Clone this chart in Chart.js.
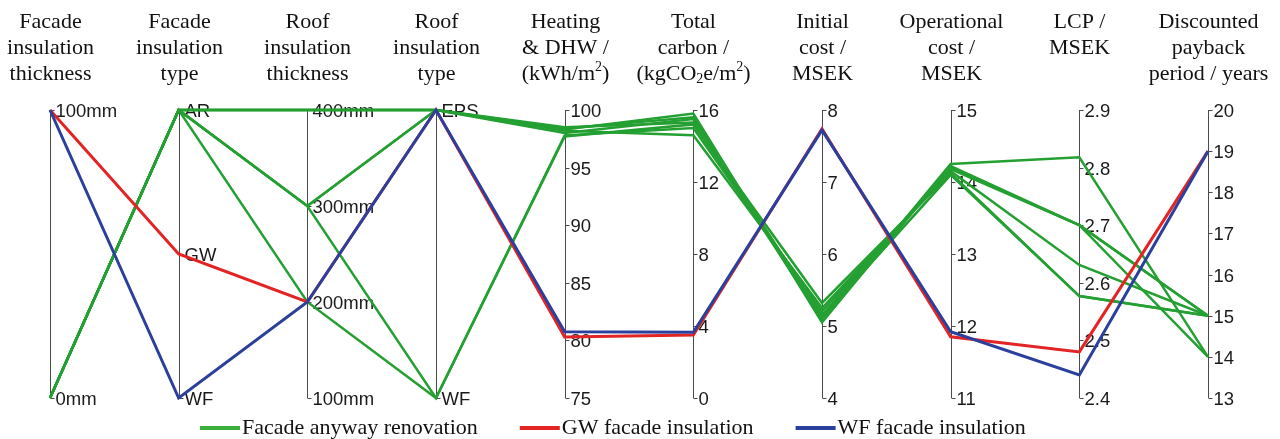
<!DOCTYPE html>
<html>
<head>
<meta charset="utf-8">
<script src="https://cdn.jsdelivr.net/npm/chart.js@4.4.0/dist/chart.umd.min.js"></script>
<style>
  html, body { margin: 0; background: #fff; }
  #wrap { width: 1280px; height: 439px; position: relative; }
</style>
</head>
<body>
<div id="wrap"><canvas id="chart"></canvas></div>
<script>
// Axis headers (segments: plain string, or [text, 'sub'|'sup'])
const axisTitles = [
    ['Facade', 'insulation', 'thickness'],
    ['Facade', 'insulation', 'type'],
    ['Roof', 'insulation', 'thickness'],
    ['Roof', 'insulation', 'type'],
    ['Heating', '& DHW /', ['(kWh/m', ['2', 'sup'], ')']],
    ['Total', 'carbon /', ['(kgCO', ['2', 'sub'], 'e/m', ['2', 'sup'], ')']],
    ['Initial', 'cost /', 'MSEK'],
    ['Operational', 'cost /', 'MSEK'],
    ['LCP /', 'MSEK'],
    ['Discounted', 'payback', 'period / years']
];

// Tick values / categories per axis
const facadeThicknessTicks = [0, 100];
const facadeTypes = ['WF', 'GW', 'AR'];
const roofThicknessTicks = [100, 200, 300, 400];
const roofTypes = ['WF', 'EPS'];
const heatingTicks = [75, 80, 85, 90, 95, 100];
const carbonTicks = [0, 4, 8, 12, 16];
const initialCostTicks = [4, 5, 6, 7, 8];
const operationalCostTicks = [11, 12, 13, 14, 15];
const lcpTicks = [2.4, 2.5, 2.6, 2.7, 2.8, 2.9];
const paybackTicks = [13, 14, 15, 16, 17, 18, 19, 20];

// Series values, one entry per axis
const anywayRuns = [
    [0, 'AR', 400, 'EPS', 98.5, 15.3, 5.10, 14.25, 2.818, 14],
    [0, 'AR', 400, 'EPS', 98.3, 15.8, 5.05, 14.22, 2.700, 15],
    [0, 'AR', 300, 'EPS', 98.0, 15.5, 5.15, 14.20, 2.700, 14],
    [0, 'AR', 300, 'WF', 97.8, 15.0, 5.20, 14.18, 2.700, 15],
    [0, 'AR', 300, 'EPS', 98.2, 14.6, 5.25, 14.15, 2.631, 15],
    [0, 'AR', 200, 'WF', 97.7, 15.2, 5.32, 14.12, 2.577, 15],
    [0, 'AR', 400, 'EPS', 98.4, 15.6, 5.12, 14.10, 2.577, 15]
];
const gwRun = [100, 'GW', 200, 'EPS', 80.3, 3.5, 7.74, 11.85, 2.48, 19];
const wfRun = [100, 'WF', 200, 'EPS', 80.75, 3.65, 7.72, 11.92, 2.44, 19];

const GREEN = '#24a032';
const GREEN_KEY = '#3cae3c';
const RED = '#e32424';
const BLUE = '#2b3f9c';

const axes = [
    { ticks: facadeThicknessTicks, fmt: v => v + 'mm' },
    { cats: facadeTypes },
    { ticks: roofThicknessTicks, fmt: v => v + 'mm' },
    { cats: roofTypes },
    { ticks: heatingTicks },
    { ticks: carbonTicks },
    { ticks: initialCostTicks },
    { ticks: operationalCostTicks },
    { ticks: lcpTicks, fmt: v => v.toFixed(1) },
    { ticks: paybackTicks }
];

function norm(axis, v) {
    if (axis.cats) return axis.cats.indexOf(v) / (axis.cats.length - 1);
    const min = axis.ticks[0], max = axis.ticks[axis.ticks.length - 1];
    return (v - min) / (max - min);
}

function tickList(axis) {
    if (axis.cats) return axis.cats.map(c => ({ pos: norm(axis, c), label: c }));
    return axis.ticks.map(t => ({ pos: norm(axis, t), label: axis.fmt ? axis.fmt(t) : String(t) }));
}

function makeLine(run, label, color, width) {
    return {
        label,
        data: run.map((v, i) => norm(axes[i], v)),
        borderColor: color,
        backgroundColor: color,
        borderWidth: width,
        pointRadius: 0,
        tension: 0,
        clip: false
    };
}

// Draw one header line made of plain/sub/sup segments
function drawRich(ctx, line, cx, cy, size) {
    const segs = (typeof line === 'string' ? [line] : line).map(s =>
        typeof s === 'string' ? { t: s, mode: null } : { t: s[0], mode: s[1] });
    const small = Math.round(size * 0.62);
    const widths = segs.map(s => {
        ctx.font = `${s.mode ? small : size}px "Liberation Serif", serif`;
        return ctx.measureText(s.t).width;
    });
    const total = widths.reduce((a, b) => a + b, 0);
    let x = Math.max(cx - total / 2, 1);
    segs.forEach((s, k) => {
        ctx.font = `${s.mode ? small : size}px "Liberation Serif", serif`;
        let dy = 0;
        if (s.mode === 'sup') dy = -size * 0.32;
        if (s.mode === 'sub') dy = size * 0.25;
        ctx.fillText(s.t, x, cy + dy);
        x += widths[k];
    });
}

const parallelAxes = {
    id: 'parallelAxes',
    beforeDatasetsDraw(chart) {
        const { ctx, scales: { x, y } } = chart;
        ctx.save();
        axes.forEach((axis, i) => {
            const px = Math.round(x.getPixelForValue(i)) + 0.5;
            ctx.strokeStyle = '#4a4a4a';
            ctx.lineWidth = 1;
            ctx.beginPath();
            ctx.moveTo(px, y.getPixelForValue(0));
            ctx.lineTo(px, y.getPixelForValue(1));
            ctx.stroke();

            ctx.fillStyle = '#1a1a1a';
            ctx.font = '18.5px "Liberation Sans", Arial, sans-serif';
            ctx.textAlign = 'left';
            ctx.textBaseline = 'middle';
            tickList(axis).forEach(t => {
                const py = Math.round(y.getPixelForValue(t.pos)) + 0.5;
                ctx.beginPath();
                ctx.moveTo(px, py);
                ctx.lineTo(px + 4, py);
                ctx.stroke();
                ctx.fillText(t.label, px + 5, py + 1);
            });

            // header
            ctx.fillStyle = '#111';
            ctx.textAlign = 'left';
            ctx.textBaseline = 'middle';
            axisTitles[i].forEach((line, j) => {
                drawRich(ctx, line, px, 22 + j * 26, 22);
            });
        });
        ctx.restore();
    },
    afterDraw(chart) {
        const { ctx } = chart;
        const items = [
            { label: 'Facade anyway renovation', color: GREEN_KEY },
            { label: 'GW facade insulation', color: RED },
            { label: 'WF facade insulation', color: BLUE }
        ];
        ctx.save();
        ctx.font = '22px "Liberation Serif", serif';
        ctx.textBaseline = 'middle';
        ctx.textAlign = 'left';
        let x = 200;
        const ly = 428;
        items.forEach(it => {
            ctx.fillStyle = it.color;
            ctx.fillRect(x, ly - 2, 40, 4);
            ctx.fillStyle = '#111';
            ctx.fillText(it.label, x + 42, ly);
            x += 42 + ctx.measureText(it.label).width + 42;
        });
        ctx.restore();
    }
};

// Chart.js paints lower-index datasets on top, so blue goes first
const datasets = [
    makeLine(wfRun, 'WF facade insulation', BLUE, 3),
    makeLine(gwRun, 'GW facade insulation', RED, 3),
    ...anywayRuns.map(r => makeLine(r, 'Facade anyway renovation', GREEN, 2.5))
];

new Chart(document.getElementById('chart'), {
    type: 'line',
    data: {
        labels: axisTitles.map((t, i) => 'axis' + i),
        datasets
    },
    options: {
        responsive: true,
        maintainAspectRatio: false,
        animation: false,
        layout: { padding: { top: 110, bottom: 41, left: 50, right: 72 } },
        scales: {
            x: { type: 'category', display: false, offset: false },
            y: { type: 'linear', display: false, min: 0, max: 1 }
        },
        plugins: {
            legend: { display: false },
            tooltip: { enabled: false }
        }
    },
    plugins: [parallelAxes]
});
</script>
</body>
</html>
